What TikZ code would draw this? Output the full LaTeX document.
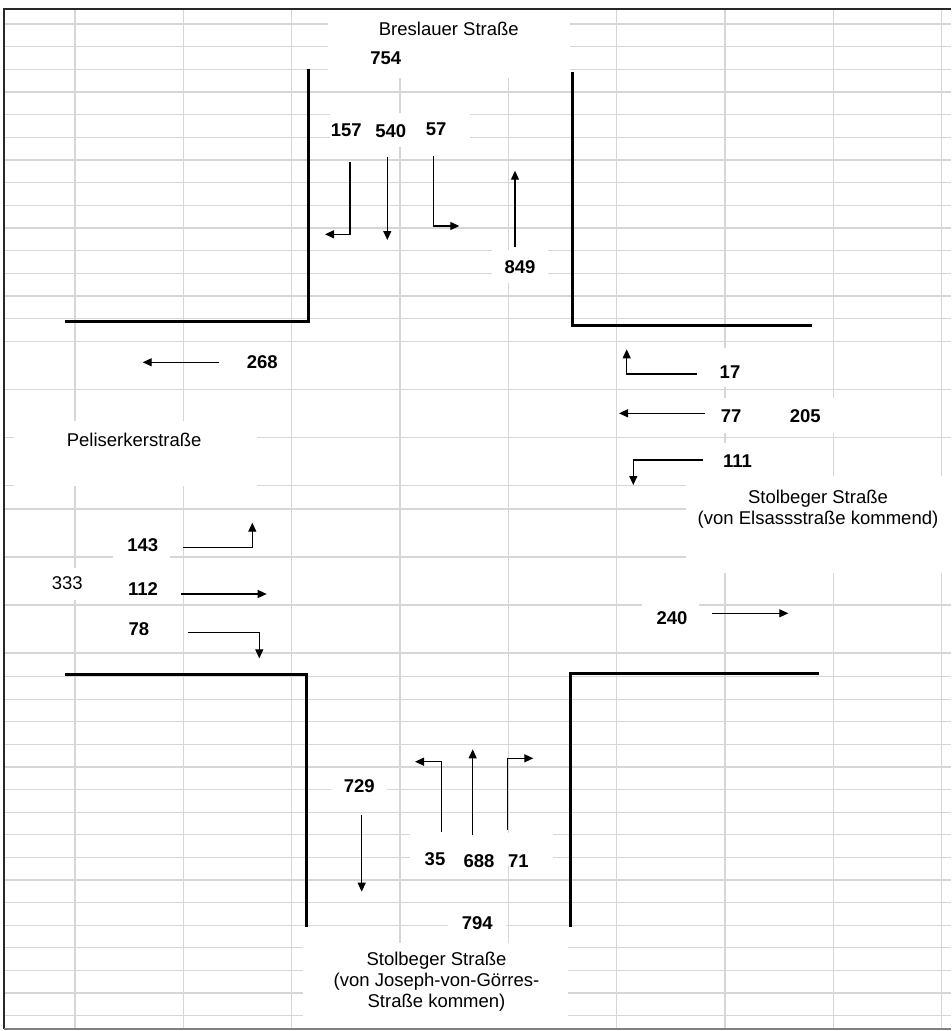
\documentclass[tikz,border=0pt]{standalone}
\usepackage{fontspec}
\setmainfont{Liberation Sans}
\usetikzlibrary{arrows.meta}
\definecolor{gridgray}{RGB}{214,214,214}
\definecolor{framegray}{RGB}{40,40,40}
\begin{document}
\begin{tikzpicture}[x=1pt,y=-1pt,
  gridline/.style={draw=gridgray,line width=1.1pt},
  patch/.style={fill=white,draw=none},
  road/.style={line width=3pt,line join=miter},
  flow/.style={line width=1.2pt,-{Triangle[length=9pt,width=8pt]}},
  num/.style={inner sep=0pt,font=\fontsize{18.5}{21}\selectfont\bfseries},
  numreg/.style={inner sep=0pt,font=\fontsize{18.5}{21}\selectfont},
  streetname/.style={inner sep=0pt,align=center,font=\fontsize{18.5}{21}\selectfont}]
\useasboundingbox (0,0) rectangle (951,1031);
\fill[white] (0,0) rectangle (951,1031);
% grid
\foreach \yy in {24,46.7,69.3,92,114.7,137.3,160,182.7,205.3,228,250.7,273.3,296,318.7,341.5,389.5,437.7,485.8,509,557,605,653,676.5,699.3,721.9,744.5,767,789.6,812.2,834.8,857.4,880,902.6,925.2,947.8,970.4,993,1015.6}
  \draw[gridline] (4,\yy) -- (951,\yy);
\foreach \xx in {75,183.3,291.7,400,508.3,616.7,725,833.3,941.7}
  \draw[gridline] (\xx,9) -- (\xx,1029);
% white text patches
\fill[patch] (328,10) rectangle (570,78);
\fill[patch] (330,113) rectangle (470,147);
\fill[patch] (492,250) rectangle (548,283);
\fill[patch] (14,421) rectangle (257,486);
\fill[patch] (113,535) rectangle (170,570);
\fill[patch] (40,568) rectangle (110,600);
\fill[patch] (700,348) rectangle (760,387);
\fill[patch] (705,398) rectangle (760,433);
\fill[patch] (775,398) rectangle (840,433);
\fill[patch] (705,443) rectangle (770,476);
\fill[patch] (686,476) rectangle (951,573);
\fill[patch] (642,590) rectangle (699,630);
\fill[patch] (331,772) rectangle (387,803);
\fill[patch] (410,833) rectangle (553,866);
\fill[patch] (448,908) rectangle (506,940);
\fill[patch] (303,943) rectangle (568,1028);
% frame
\draw[framegray,line width=1.8pt] (4,1029) -- (4,9) -- (951,9);
\draw[gray,line width=1.2pt] (4,1029) -- (951,1029);
% road edges
\draw[road] (65,321) -- (308,321) -- (308,69);
\draw[road] (572,72) -- (572,325) -- (812,325);
\draw[road] (65,674) -- (306,674) -- (306,927);
\draw[road] (570,927) -- (570,673) -- (819,673);
% flow arrows: north approach
\draw[flow] (350,162) -- (350,234.3) -- (325,234.3);
\draw[flow] (387.3,156.7) -- (387.3,240);
\draw[flow] (433.3,156) -- (433.3,226) -- (459.3,226);
\draw[flow] (515,246.7) -- (515,170.7);
% west
\draw[flow] (219.3,362.3) -- (142.7,362.3);
\draw[flow] (183.3,547.3) -- (252.3,547.3) -- (252.3,522.7);
\draw[flow] (181,594) -- (266.7,594);
\draw[flow] (187.7,632.7) -- (259.3,632.7) -- (259.3,658.3);
% east
\draw[flow] (696.7,374) -- (626.7,374) -- (626.7,349.3);
\draw[flow] (705,413.3) -- (619,413.3);
\draw[flow] (703.3,460) -- (633.3,460) -- (633.3,485);
\draw[flow] (712.3,613.3) -- (788.3,613.3);
% south
\draw[flow] (361.7,815) -- (361.7,891.7);
\draw[flow] (441.7,831.7) -- (441.7,761.7) -- (415,761.7);
\draw[flow] (472.7,835) -- (472.7,749.3);
\draw[flow] (507.7,830) -- (507.7,758.3) -- (533.3,758.3);
% labels
\node[streetname] (bres) at (448.8,29.3) {Breslauer Straße};
\node[num] (n754) at (385.8,58.3) {754};
\node[num] (n157) at (346.3,130.7) {157};
\node[num] (n540) at (390.7,130.7) {540};
\node[num] (n57) at (436.2,129.3) {57};
\node[num] (n849) at (520,266.7) {849};
\node[num] (n268) at (262.3,362.3) {268};
\node[streetname] (peli) at (134.2,440) {Peliserkerstraße};
\node[num] (n143) at (142.7,545) {143};
\node[numreg] (n333) at (67.2,582.7) {333};
\node[num] (n112) at (143,589) {112};
\node[num] (n78) at (138.8,629.3) {78};
\node[num] (n17) at (730,372.3) {17};
\node[num] (n77) at (731.2,415.7) {77};
\node[num] (n205) at (805.3,415.7) {205};
\node[num] (n111) at (737.5,460.7) {111};
\node[streetname] (stolE) at (818,509) {Stolbeger Straße\\(von Elsassstraße kommend)};
\node[num] (n240) at (672,618.3) {240};
\node[num] (n729) at (359.2,786) {729};
\node[num] (n35) at (435,859.3) {35};
\node[num] (n688) at (479,860.7) {688};
\node[num] (n71) at (518.3,860.7) {71};
\node[num] (n794) at (477.3,922.7) {794};
\node[streetname] (stolS) at (436.5,981.5) {Stolbeger Straße\\(von Joseph-von-Görres-\\Straße kommen)};
\end{tikzpicture}
\end{document}
